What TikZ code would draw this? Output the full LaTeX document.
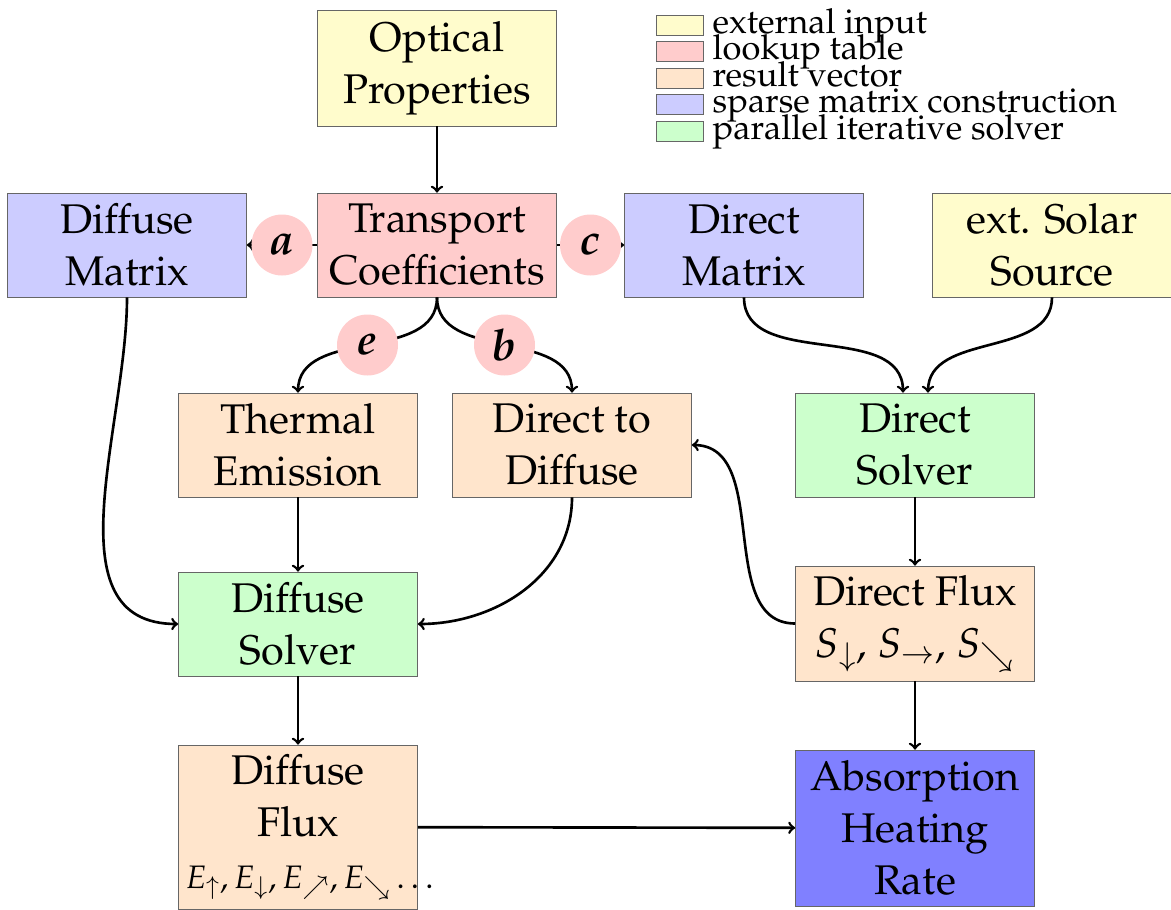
\documentclass[tikz,border=0pt]{standalone}
\usepackage[T1]{fontenc}
\usepackage{mathpazo}
\usepackage{tikz}

\begin{document}
\begin{tikzpicture}[
  box/.style={draw=black!60, minimum width=4.78cm, minimum height=2.08cm, align=center, font=\fontsize{23.6}{29.6}\selectfont, inner sep=2pt},
  input/.style={box, fill=yellow!20},
  lut/.style={box, fill=red!20},
  res/.style={box, fill=orange!20},
  mat/.style={box, fill=blue!20},
  solver/.style={box, fill=green!20},
  lbl/.style={circle, fill=red!20, minimum size=1.22cm, inner sep=1pt, font=\Huge\bfseries\itshape},
  flow/.style={line width=1.5pt, ->},
  legbox/.style={draw=black!60, minimum width=0.94cm, minimum height=0.4cm, inner sep=0pt},
  legtext/.style={anchor=base west, inner sep=0pt, font=\fontsize{19.6}{22}\selectfont}]

\useasboundingbox (0,0) rectangle (23.42,-18.18);

% legend
\node[legbox, fill=yellow!20] (k1) at (13.59,-0.5) {};
\node[legbox, fill=red!20] (k2) at (13.59,-1.02) {};
\node[legbox, fill=orange!20] (k3) at (13.59,-1.56) {};
\node[legbox, fill=blue!20] (k4) at (13.59,-2.08) {};
\node[legbox, fill=green!20] (k5) at (13.59,-2.62) {};
\node[legtext] (t1) at ([xshift=0.18cm, yshift=0.04cm]k1.south east) {external input};
\node[legtext] (t2) at ([xshift=0.18cm, yshift=0.04cm]k2.south east) {lookup table};
\node[legtext] (t3) at ([xshift=0.18cm, yshift=0.04cm]k3.south east) {result vector};
\node[legtext] (t4) at ([xshift=0.18cm, yshift=0.04cm]k4.south east) {sparse matrix construction};
\node[legtext] (t5) at ([xshift=0.18cm, yshift=0.04cm]k5.south east) {parallel iterative solver};

% boxes
\node[input, minimum height=2.32cm] (optic) at (8.74,-1.36) {Optical\\Properties};
\node[lut] (trans) at (8.74,-4.9) {Transport\\Coefficients};
\node[mat] (diffmat) at (2.54,-4.9) {Diffuse\\Matrix};
\node[mat] (dirmat) at (14.88,-4.9) {Direct\\Matrix};
\node[input] (solar) at (21.04,-4.9) {ext. Solar\\Source};
\node[res] (thermal) at (5.96,-8.9) {Thermal\\Emission};
\node[res] (dirdiff) at (11.44,-8.9) {Direct to\\Diffuse};
\node[solver] (dirsolve) at (18.3,-8.9) {Direct\\Solver};
\node[solver] (diffsolve) at (5.96,-12.48) {Diffuse\\Solver};
\node[res, minimum height=2.3cm] (dirflux) at (18.3,-12.47) {Direct Flux\\$S_\downarrow$, $S_\rightarrow$, $S_\searrow$};
\node[res, minimum height=3.28cm] (diffflux) at (5.96,-16.54) {Diffuse\\Flux\\\makebox[4.5cm][l]{\fontsize{18.5}{22}\selectfont $E_\uparrow, E_\downarrow, E_\nearrow, E_\searrow \ldots$}};
\node[box, fill=blue!50, minimum height=3.12cm] (absorb) at (18.3,-16.56) {Absorption\\Heating\\Rate};

% connectors
\draw[flow] (optic) -- (trans);
\draw[flow] (trans) -- node[lbl] {a} (diffmat);
\draw[flow] (trans) -- node[lbl] {c} (dirmat);
\draw[flow] (trans.south) to[out=-90, in=90] node[lbl] {e} (thermal.north);
\draw[flow] (trans.south) to[out=-90, in=90] node[lbl] {b} (dirdiff.north);
\draw[flow] (dirmat.south) to[out=-90, in=90] ([xshift=-0.24cm]dirsolve.north);
\draw[flow] (solar.south) to[out=-90, in=90] ([xshift=0.26cm]dirsolve.north);
\draw[flow] (diffmat.south) to[out=-90, in=180] (diffsolve.west);
\draw[flow] (dirdiff.south) to[out=-90, in=0] (diffsolve.east);
\draw[flow] (thermal) -- (diffsolve);
\draw[flow] (dirsolve) -- (dirflux);
\draw[flow] (dirflux.west) to[out=180, in=0] (dirdiff.east);
\draw[flow] (diffsolve) -- (diffflux);
\draw[flow] (dirflux) -- (absorb);
\draw[flow] (diffflux) -- (absorb);
\end{tikzpicture}
\end{document}
